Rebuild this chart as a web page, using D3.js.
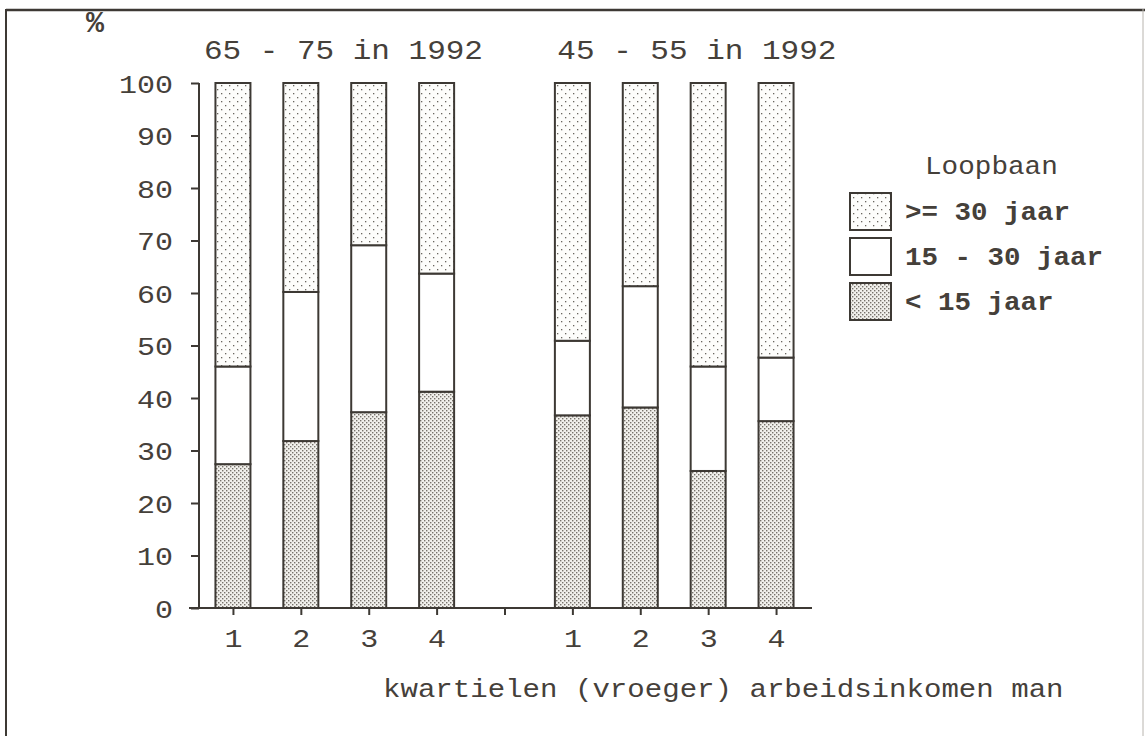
<!DOCTYPE html>
<html>
<head>
<meta charset="utf-8">
<script src="https://cdn.jsdelivr.net/npm/d3@7"></script>
<style>
  html, body { margin: 0; padding: 0; background: #ffffff; }
  svg { display: block; }
  text { font-family: "Liberation Mono", "DejaVu Sans Mono", monospace; fill: #45403a; }
</style>
</head>
<body>
<svg id="chart" width="1145" height="736"></svg>
<script>
// ---- data ----
const groupTitles = ["65 - 75 in 1992", "45 - 55 in 1992"];
const quartiles = ["1", "2", "3", "4"];
const seriesNames = ["< 15 jaar", "15 - 30 jaar", ">= 30 jaar"];
const legendTitle = "Loopbaan";
const yTicks = [0, 10, 20, 30, 40, 50, 60, 70, 80, 90, 100];
const lt15   = [27.4, 31.8, 37.3, 41.2, 36.7, 38.2, 26.1, 35.6];
const mid1530 = [18.6, 28.4, 31.8, 22.5, 14.2, 23.1, 19.9, 12.1];
const ge30   = [54.0, 39.8, 30.9, 36.3, 49.1, 38.7, 54.0, 52.3];
const yUnit = "%";
const xTitle = "kwartielen (vroeger) arbeidsinkomen man";

// ---- build categories (with an empty gap slot between the two groups) ----
const keys = [];
groupTitles.forEach((g, gi) => {
  quartiles.forEach(q => keys.push({ key: "g" + gi + "-" + q, label: q, group: gi }));
  if (gi < groupTitles.length - 1) keys.push({ key: "gap" + gi, label: "", group: -1 });
});
const rows = [];
let idx = 0;
keys.forEach(k => {
  if (k.group >= 0) {
    rows.push({ key: k.key, lt15: lt15[idx], mid: mid1530[idx], ge30: ge30[idx] });
    idx++;
  }
});

const svg = d3.select("#chart");
const ink = "#3d3934";

// patterns
const defs = svg.append("defs");
const pSparse = defs.append("pattern").attr("id", "sparse").attr("patternUnits", "userSpaceOnUse")
  .attr("width", 8).attr("height", 8);
pSparse.append("rect").attr("width", 8).attr("height", 8).attr("fill", "#fdfdfb");
pSparse.append("rect").attr("x", 1).attr("y", 1).attr("width", 1.3).attr("height", 1.3).attr("fill", "#6a665f");
pSparse.append("rect").attr("x", 5).attr("y", 5).attr("width", 1.3).attr("height", 1.3).attr("fill", "#6a665f");

const pDense = defs.append("pattern").attr("id", "dense").attr("patternUnits", "userSpaceOnUse")
  .attr("width", 4).attr("height", 4);
pDense.append("rect").attr("width", 4).attr("height", 4).attr("fill", "#f1f0ec");
pDense.append("rect").attr("x", 0).attr("y", 0).attr("width", 1.4).attr("height", 1.4).attr("fill", "#77726b");
pDense.append("rect").attr("x", 2).attr("y", 2).attr("width", 1.4).attr("height", 1.4).attr("fill", "#77726b");

const fills = { lt15: "url(#dense)", mid: "#ffffff", ge30: "url(#sparse)" };

// frame
svg.append("line").attr("x1", 6).attr("x2", 1145).attr("y1", 10).attr("y2", 10)
  .attr("stroke", ink).attr("stroke-width", 2.5);
svg.append("line").attr("x1", 6).attr("x2", 6).attr("y1", 9).attr("y2", 736)
  .attr("stroke", ink).attr("stroke-width", 2);
svg.append("line").attr("x1", 1143).attr("x2", 1143).attr("y1", 9).attr("y2", 736)
  .attr("stroke", "#b8b4ae").attr("stroke-width", 1);

// scales
const y = d3.scaleLinear().domain([0, 100]).range([608, 83]);
const x = d3.scalePoint().domain(keys.map(k => k.key)).range([199, 810]).padding(0.5);
const barW = 35;

// helper for stretched monospace text
function mtext(sel, str, cw) {
  sel.text(str).attr("textLength", str.length * cw).attr("lengthAdjust", "spacingAndGlyphs");
  return sel;
}

// stacked bars
const stack = d3.stack().keys(["lt15", "mid", "ge30"]);
const stacked = stack(rows);
const gBars = svg.append("g");
stacked.forEach(layer => {
  gBars.selectAll(null).data(layer).enter().append("rect")
    .attr("x", d => x(d.data.key) - barW / 2)
    .attr("y", d => y(d[1]))
    .attr("width", barW)
    .attr("height", d => y(d[0]) - y(d[1]))
    .attr("fill", fills[layer.key])
    .attr("stroke", ink)
    .attr("stroke-width", 2);
});

// y axis
const yAxis = d3.axisLeft(y).tickValues(yTicks).tickSize(8).tickPadding(18);
const gy = svg.append("g").attr("transform", "translate(199,0)").call(yAxis);
gy.select(".domain").remove();
gy.append("line").attr("x1", 0).attr("x2", 0).attr("y1", y(100)).attr("y2", y(0))
  .attr("stroke", ink).attr("stroke-width", 2);
gy.selectAll(".tick line").attr("stroke", ink).attr("stroke-width", 2);
gy.selectAll(".tick text").each(function(d) {
  const t = d3.select(this);
  t.attr("font-size", 25).attr("fill", "#4a4540").attr("font-family", "Liberation Mono").attr("dy", "0.36em");
  mtext(t, String(d), 18);
});

// x axis
const xAxis = d3.axisBottom(x).tickSize(7).tickPadding(14)
  .tickFormat(k => keys.find(e => e.key === k).label);
const gx = svg.append("g").attr("transform", "translate(0,608)").call(xAxis);
gx.select(".domain").remove();
gx.append("line").attr("x1", 189).attr("x2", 812).attr("y1", 0).attr("y2", 0)
  .attr("stroke", ink).attr("stroke-width", 2);
gx.selectAll(".tick line").attr("stroke", ink).attr("stroke-width", 2);
gx.selectAll(".tick text").each(function(k) {
  const t = d3.select(this);
  const lab = keys.find(e => e.key === k).label;
  t.attr("font-size", 25).attr("fill", "#4a4540").attr("font-family", "Liberation Mono").attr("dy", "0.72em");
  if (lab) mtext(t, lab, 18);
});

// group titles
const titleOffsets = [-29, -15];
groupTitles.forEach((g, gi) => {
  const first = x("g" + gi + "-1");
  const t = svg.append("text").attr("x", first + titleOffsets[gi]).attr("y", 59).attr("font-size", 28);
  mtext(t, g, 18.6);
});

// unit
svg.append("text").attr("x", 86).attr("y", 32).attr("font-size", 30).attr("font-weight", "bold").text(yUnit);

// x title
mtext(svg.append("text").attr("x", 383).attr("y", 697).attr("font-size", 26), xTitle, 17.45);

// legend
mtext(svg.append("text").attr("x", 925).attr("y", 174).attr("font-size", 25), legendTitle, 16.6);
const legOrder = ["ge30", "mid", "lt15"];
const legLabels = { ge30: seriesNames[2], mid: seriesNames[1], lt15: seriesNames[0] };
legOrder.forEach((k, i) => {
  const by = 193 + i * 45;
  svg.append("rect").attr("x", 850).attr("y", by).attr("width", 41).attr("height", 37)
    .attr("fill", fills[k]).attr("stroke", ink).attr("stroke-width", 2);
  const t = svg.append("text").attr("x", 905).attr("y", by + 27).attr("font-size", 25).attr("font-weight", "bold");
  mtext(t, legLabels[k], 16.5);
});
</script>
</body>
</html>
